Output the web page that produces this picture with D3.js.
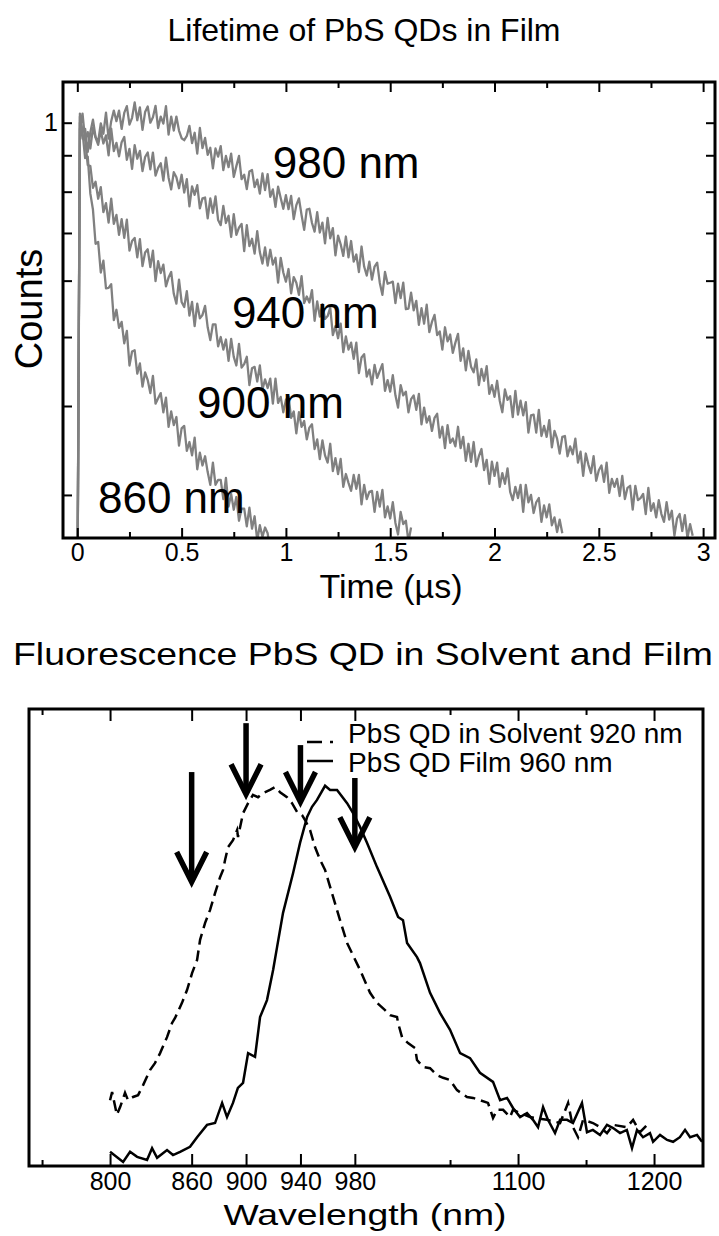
<!DOCTYPE html>
<html><head><meta charset="utf-8">
<script src="https://cdn.jsdelivr.net/npm/d3@7"></script>
<style>
body{margin:0;background:#fff}
svg{display:block}
text{font-family:"Liberation Sans",Arial,Helvetica,sans-serif;fill:#000}
</style>
</head><body>
<svg id="c" width="719" height="1236"></svg>
<script>
// ---------------- DATA ----------------
// Lifetime decays (normalized counts), sampled every DT microseconds starting at DT
const DT = 0.0125;
const decay980 = [1.03,0.97,0.98,0.91,0.97,1.01,0.955,0.94,
0.998,0.965,1.033,0.95,1.005,1.04,1.005,1.04,
0.98,1.032,1.055,0.994,1.016,1.068,1.008,1.051,
0.977,1.035,1.054,1.0,1.018,1.056,0.983,1.02,
0.997,1.055,0.962,1.02,0.975,1.02,0.975,0.951,
0.945,0.958,0.99,0.936,0.968,0.905,0.983,0.921,
0.952,0.901,0.922,0.863,0.92,0.896,0.927,0.858,
0.898,0.866,0.905,0.839,0.869,0.898,0.833,0.845,
0.807,0.854,0.858,0.812,0.832,0.795,0.849,0.804,
0.847,0.787,0.806,0.762,0.813,0.784,0.757,0.791,
0.756,0.789,0.732,0.766,0.783,0.742,0.707,0.755,
0.757,0.723,0.703,0.749,0.701,0.724,0.677,0.735,
0.688,0.711,0.651,0.694,0.675,0.65,0.692,0.647,
0.682,0.638,0.653,0.617,0.67,0.628,0.61,0.638,
0.602,0.628,0.636,0.596,0.573,0.617,0.594,0.596,
0.598,0.558,0.594,0.567,0.596,0.547,0.548,0.577,
0.545,0.562,0.52,0.549,0.522,0.555,0.508,0.525,
0.537,0.503,0.509,0.48,0.516,0.493,0.504,0.475,
0.491,0.505,0.463,0.482,0.449,0.478,0.454,0.446,
0.465,0.428,0.451,0.434,0.455,0.416,0.428,0.412,
0.434,0.407,0.392,0.422,0.408,0.413,0.386,0.42,
0.389,0.407,0.388,0.405,0.367,0.388,0.389,0.367,
0.395,0.363,0.375,0.362,0.382,0.35,0.369,0.36,
0.343,0.362,0.363,0.34,0.351,0.342,0.36,0.333,
0.345,0.319,0.343,0.331,0.322,0.34,0.314,0.325,
0.33,0.313,0.333,0.302,0.316,0.308,0.316,0.299,
0.319,0.296,0.307,0.309,0.286,0.309,0.295,0.297,
0.301,0.282,0.307,0.285,0.292,0.279,0.295,0.282,
0.275,0.293,0.277,0.285,0.263,0.278,0.282,0.267,
0.281,0.261,0.273,0.263];
const decay940 = [0.98,1.03,0.946,0.97,0.92,0.984,0.953,0.931,
0.975,0.935,0.96,0.9,0.981,0.912,0.937,0.897,
0.939,0.955,0.887,0.919,0.861,0.93,0.89,0.913,
0.855,0.895,0.908,0.86,0.908,0.843,0.864,0.877,
0.829,0.893,0.837,0.806,0.852,0.838,0.809,0.845,
0.798,0.833,0.763,0.814,0.792,0.817,0.758,0.783,
0.785,0.734,0.783,0.747,0.788,0.73,0.718,0.764,
0.723,0.74,0.691,0.744,0.696,0.712,0.721,0.66,
0.718,0.671,0.687,0.655,0.704,0.658,0.634,0.668,
0.63,0.663,0.632,0.646,0.596,0.646,0.616,0.598,
0.623,0.576,0.607,0.596,0.573,0.609,0.558,0.57,
0.559,0.582,0.527,0.561,0.534,0.556,0.53,0.535,
0.55,0.503,0.518,0.498,0.522,0.476,0.501,0.48,
0.491,0.466,0.491,0.445,0.468,0.473,0.44,0.45,
0.429,0.457,0.438,0.448,0.458,0.42,0.435,0.419,
0.442,0.414,0.398,0.428,0.414,0.419,0.392,0.409,
0.414,0.395,0.416,0.377,0.398,0.379,0.387,0.369,
0.385,0.39,0.361,0.374,0.349,0.376,0.355,0.36,
0.351,0.374,0.349,0.362,0.335,0.354,0.334,0.356,
0.329,0.34,0.348,0.325,0.336,0.311,0.334,0.319,
0.333,0.308,0.322,0.311,0.327,0.303,0.295,0.308,
0.297,0.31,0.284,0.31,0.293,0.3,0.283,0.293,
0.297,0.275,0.29,0.279,0.291,0.272,0.279,0.266,
0.277,0.265];
const decay900 = [1.02,0.95,0.948,0.872,0.869,0.81,0.826,0.782,
0.812,0.749,0.771,0.724,0.782,0.721,0.742,0.696,
0.732,0.689,0.731,0.661,0.682,0.689,0.647,0.686,
0.629,0.657,0.664,0.627,0.661,0.599,0.639,0.615,
0.632,0.589,0.606,0.617,0.575,0.557,0.602,0.56,
0.551,0.58,0.536,0.56,0.518,0.557,0.531,0.537,
0.553,0.516,0.495,0.521,0.521,0.485,0.5,0.48,
0.496,0.463,0.497,0.469,0.456,0.489,0.453,0.458,
0.469,0.428,0.452,0.454,0.433,0.456,0.422,0.436,
0.424,0.437,0.403,0.437,0.404,0.412,0.392,0.408,
0.412,0.385,0.393,0.366,0.392,0.374,0.381,0.359,
0.373,0.377,0.348,0.359,0.337,0.358,0.341,0.333,
0.354,0.324,0.338,0.321,0.337,0.308,0.321,0.312,
0.304,0.32,0.306,0.32,0.291,0.31,0.296,0.303,
0.304,0.284,0.303,0.289,0.305,0.279,0.289,0.278,
0.293,0.274,0.264,0.284,0.273,0.276,0.258,0.27];
const decay860 = [1.0,0.97,0.892,0.896,0.795,0.755,0.676,0.68,
0.616,0.64,0.585,0.586,0.593,0.528,0.546,0.515,
0.525,0.49,0.51,0.456,0.477,0.479,0.444,0.459,
0.426,0.446,0.435,0.417,0.441,0.403,0.41,0.417,
0.392,0.411,0.374,0.393,0.376,0.386,0.352,0.372,
0.375,0.346,0.356,0.341,0.361,0.326,0.344,0.33,
0.34,0.323,0.31,0.333,0.31,0.315,0.315,0.296,
0.317,0.289,0.301,0.286,0.298,0.276,0.287,0.287,
0.271,0.288,0.269,0.28,0.259,0.272,0.262,0.27,
0.265,0.25];
const decayLabels = ["980 nm","940 nm","900 nm","860 nm"];
const decayLabelTime = [0.937,0.741,0.574,0.099];
const decayLabelCount = [0.836,0.515,0.385,0.283];
const timeTicks = [0,0.5,1,1.5,2,2.5,3];
const timeTickLabels = ["0","0.5","1","1.5","2","2.5","3"];
const timeMinorTicks = [0.25,0.75,1.25,1.75,2.25,2.75];
const countTicks = [0.3,0.4,0.5,0.6,0.7,0.8,0.9,1];

// Fluorescence spectra (arbitrary units)
const wlSolvent = [800,801.5,805,807.4,811,813.2,816.9,820.6,824.3,829.4,833,836.8,841.9,845.6,847.8,852.9,856.6,860.3,864,866.2,
869.9,873.5,877.2,880.9,883.1,884.6,886.8,890.4,893.4,894.1,897.8,901.5,905.1,908.8,912.5,917.6,921.3,925,930.1,933.8,
937.5,941.2,943.4,947.1,950.7,954.4,958.1,964,969.1,974.3,983.8,991.2,996.3,1002.2,1005.9,1011,1011.8,1014.7,1019.1,1024.3,
1025.7,1030.1,1035.3,1040.4,1044.9,1050,1055.1,1062.5,1066.9,1072.1,1077.9,1081.6,1084.6,1089,1094.1,1096.3,1101.5,1108.8,1121.3,1130.9,
1136.8,1140.4,1144.1,1147.8,1155.1,1160.3,1165.4,1169.9,1180.1,1184.6,1189.7,1194.9];
const intSolvent = [14.4,16.2,11.2,12.9,16.0,14.4,15.1,15.5,17.7,21.0,22.5,24.7,28.2,31.3,32.4,35.7,38.5,42.2,45.1,49.5,
53.2,56.0,59.7,63.2,64.8,67.0,69.8,71.3,73.5,72.0,77.2,79.4,81.2,80.7,81.6,82.3,82.9,81.8,80.7,79.4,
77.5,76.8,75.7,73.5,69.8,67.0,64.8,58.9,53.8,48.8,42.9,37.9,35.7,34.1,33.0,32.6,31.3,28.2,26.9,25.8,
23.2,21.7,21.4,19.9,19.3,18.8,16.6,15.1,14.9,14.4,13.8,10.5,12.3,12.3,10.7,12.3,11.6,10.7,10.1,9.4,
13.8,8.5,6.3,10.1,9.4,8.5,7.2,9.0,8.5,10.1,7.4,9.0];
const wlFilm = [800,809.6,814.7,819.9,827.2,830.9,834.6,841.9,846.3,851.5,858.8,864,871.3,877.2,882.4,886,890.4,894,897.8,901.5,
906.6,910.3,915.4,919.9,922.8,927.2,934.6,939.7,944.9,948.5,952.2,958.1,961.8,966.9,974.3,978.7,983.8,989,996.3,1005.9,
1011.8,1015.4,1018.4,1025.7,1027.9,1035.3,1042.6,1050,1057.4,1064.7,1072,1081.6,1086.8,1091.9,1096.3,1101.5,1106.6,1111,1114.7,1118.4,
1122,1127.2,1130.9,1136,1140.4,1147,1150.7,1155,1160.3,1165.4,1169.9,1175,1180,1183.8,1187.5,1191.9,1197,1199.3,1204.4,1209.6,
1214,1219,1222.8,1226.5,1231.6,1235.3];
const intFilm = [3.1,0.9,3.1,2.0,1.3,3.9,1.8,3.5,2.4,3.1,4.2,6.3,9.0,9.4,13.8,10.7,13.8,17.1,18.2,24.7,
23.9,32.6,36.3,42.9,47.9,55.4,64.1,70.7,76.4,78.6,80.1,83.2,82.3,82.3,79.4,77.2,74.2,70.7,65.4,58.9,
54.5,53.8,48.8,45.7,44.4,37.9,33.5,29.8,24.7,23.6,20.4,18.4,14.4,14.9,12.7,10.7,11.6,10.1,8.5,12.9,
10.1,7.2,10.1,10.1,9.4,13.8,7.4,7.9,6.8,9.0,8.3,7.2,7.9,3.9,7.9,6.3,7.2,5.3,6.8,5.7,
5.3,6.3,7.9,6.3,6.8,5.3];
const wlTicks = [800,860,900,940,980,1100,1200];
const wlMinorTicks = [750,1050,1150];
const arrowWl = [860,900,940,980];
const arrowTop = [86.2,96.9,92.1,84.9];
const arrowTip = [61.5,80.7,79.0,69.1];
const legendLabels = ["PbS QD in Solvent 920 nm","PbS QD Film 960 nm"];

// ---------------- DRAW ----------------
const svg = d3.select("#c");
const FONT = '"Liberation Sans",Arial,Helvetica,sans-serif';

function styleAxis(g, fs){
  g.select(".domain").remove();
  g.attr("font-family", FONT).attr("font-size", fs);
  g.selectAll(".tick line").attr("stroke","#000").attr("stroke-width",2);
  g.selectAll(".tick text").attr("fill","#000");
}

// ===== Top: lifetime =====
const P1 = {l:63, r:715, t:82, b:538};
const x1 = d3.scaleLinear().domain([-0.0686, 3.057]).range([P1.l, P1.r]);
const y1 = d3.scaleLog().domain([0.261, 1.1407]).range([P1.b, P1.t]);

svg.append("text").attr("x",364).attr("y",41).attr("text-anchor","middle")
  .attr("font-size",32).text("Lifetime of PbS QDs in Film");

svg.append("clipPath").attr("id","clip1").append("rect")
  .attr("x",P1.l).attr("y",P1.t).attr("width",P1.r-P1.l).attr("height",P1.b-P1.t);

const line1 = d3.line().x(d=>x1(d[0])).y(d=>y1(d[1]));
const gCurves = svg.append("g").attr("clip-path","url(#clip1)");
[decay980, decay940, decay900, decay860].forEach(vals=>{
  const pts = [[0,0.2]].concat(vals.map((v,i)=>[(i+1)*DT, v]));
  gCurves.append("path").attr("d", line1(pts)).attr("fill","none")
    .attr("stroke","#808080").attr("stroke-width",2.3).attr("stroke-linejoin","round");
});

decayLabels.forEach((s,i)=>{
  svg.append("text").attr("x",x1(decayLabelTime[i])).attr("y",y1(decayLabelCount[i]))
    .attr("font-size",44).text(s);
});

// axes
let g;
g = svg.append("g").attr("transform",`translate(0,${P1.b})`)
  .call(d3.axisBottom(x1).tickValues(timeTicks).tickSize(-10).tickPadding(5).tickFormat((d,i)=>timeTickLabels[i]));
styleAxis(g,25);
g = svg.append("g").attr("transform",`translate(0,${P1.b})`)
  .call(d3.axisBottom(x1).tickValues(timeMinorTicks).tickSize(-6).tickFormat(""));
styleAxis(g,25);
g = svg.append("g").attr("transform",`translate(0,${P1.t})`)
  .call(d3.axisTop(x1).tickValues(timeTicks).tickSize(-10).tickFormat(""));
styleAxis(g,25);
g = svg.append("g").attr("transform",`translate(0,${P1.t})`)
  .call(d3.axisTop(x1).tickValues(timeMinorTicks).tickSize(-6).tickFormat(""));
styleAxis(g,25);
g = svg.append("g").attr("transform",`translate(${P1.l},0)`)
  .call(d3.axisLeft(y1).tickValues(countTicks).tickSize(-9).tickPadding(5).tickFormat(d=>d===1?"1":""));
styleAxis(g,25);
g = svg.append("g").attr("transform",`translate(${P1.r},0)`)
  .call(d3.axisRight(y1).tickValues(countTicks).tickSize(-9).tickFormat(""));
styleAxis(g,25);

svg.append("rect").attr("x",P1.l).attr("y",P1.t).attr("width",P1.r-P1.l).attr("height",P1.b-P1.t)
  .attr("fill","none").attr("stroke","#000").attr("stroke-width",3);

svg.append("text").attr("x",391).attr("y",598).attr("text-anchor","middle")
  .attr("font-size",34).text("Time (\u00b5s)");
svg.append("text").attr("transform","translate(42,309) rotate(-90)").attr("text-anchor","middle")
  .attr("font-size",38).text("Counts");

// ===== Bottom: fluorescence =====
const P2 = {l:29, r:703, t:709, b:1166};
const x2 = d3.scaleLinear().domain([740.4, 1236]).range([P2.l, P2.r]);
const y2 = d3.scaleLinear().domain([0, 100]).range([P2.b, P2.t]);

svg.append("text").attr("x",363).attr("y",665).attr("text-anchor","middle")
  .attr("font-size",32).attr("textLength",700).attr("lengthAdjust","spacingAndGlyphs")
  .text("Fluorescence PbS QD in Solvent and Film");

svg.append("clipPath").attr("id","clip2").append("rect")
  .attr("x",P2.l).attr("y",P2.t).attr("width",P2.r-P2.l).attr("height",P2.b-P2.t);
const line2 = d3.line().x(d=>x2(d[0])).y(d=>y2(d[1]));
const gSpec = svg.append("g").attr("clip-path","url(#clip2)");
gSpec.append("path").attr("d", line2(wlSolvent.map((w,i)=>[w,intSolvent[i]])))
  .attr("fill","none").attr("stroke","#000").attr("stroke-width",2.5).attr("stroke-dasharray","11,6");
gSpec.append("path").attr("d", line2(wlFilm.map((w,i)=>[w,intFilm[i]])))
  .attr("fill","none").attr("stroke","#000").attr("stroke-width",2.5).attr("stroke-linejoin","miter");

// arrows
arrowWl.forEach((w,i)=>{
  const ax = x2(w), ty = y2(arrowTip[i]), top = y2(arrowTop[i]);
  svg.append("line").attr("x1",ax).attr("x2",ax).attr("y1",top).attr("y2",ty-4)
    .attr("stroke","#000").attr("stroke-width",5.5);
  svg.append("path").attr("d",`M${ax-15},${ty-33}L${ax},${ty-3}L${ax+15},${ty-33}`)
    .attr("fill","none").attr("stroke","#000").attr("stroke-width",5.5).attr("stroke-linejoin","miter");
});

// legend
svg.append("line").attr("x1",307).attr("x2",333).attr("y1",742).attr("y2",742)
  .attr("stroke","#000").attr("stroke-width",2.5).attr("stroke-dasharray","15,8");
svg.append("line").attr("x1",307).attr("x2",333).attr("y1",761).attr("y2",761)
  .attr("stroke","#000").attr("stroke-width",2.5);
svg.append("text").attr("x",348).attr("y",743).attr("font-size",28).text(legendLabels[0]);
svg.append("text").attr("x",348).attr("y",772).attr("font-size",28).text(legendLabels[1]);

// axes
g = svg.append("g").attr("transform",`translate(0,${P2.b})`)
  .call(d3.axisBottom(x2).tickValues(wlTicks).tickSize(-12).tickPadding(6).tickFormat(d3.format("d")));
styleAxis(g,25);
g = svg.append("g").attr("transform",`translate(0,${P2.b})`)
  .call(d3.axisBottom(x2).tickValues(wlMinorTicks).tickSize(-6).tickFormat(""));
styleAxis(g,25);
g = svg.append("g").attr("transform",`translate(0,${P2.t})`)
  .call(d3.axisTop(x2).tickValues(wlTicks).tickSize(-12).tickFormat(""));
styleAxis(g,25);
g = svg.append("g").attr("transform",`translate(0,${P2.t})`)
  .call(d3.axisTop(x2).tickValues(wlMinorTicks).tickSize(-6).tickFormat(""));
styleAxis(g,25);

svg.append("rect").attr("x",P2.l).attr("y",P2.t).attr("width",P2.r-P2.l).attr("height",P2.b-P2.t)
  .attr("fill","none").attr("stroke","#000").attr("stroke-width",3);

svg.append("text").attr("x",365).attr("y",1225).attr("text-anchor","middle")
  .attr("font-size",30).attr("textLength",283).attr("lengthAdjust","spacingAndGlyphs")
  .text("Wavelength (nm)");
</script>
</body></html>
